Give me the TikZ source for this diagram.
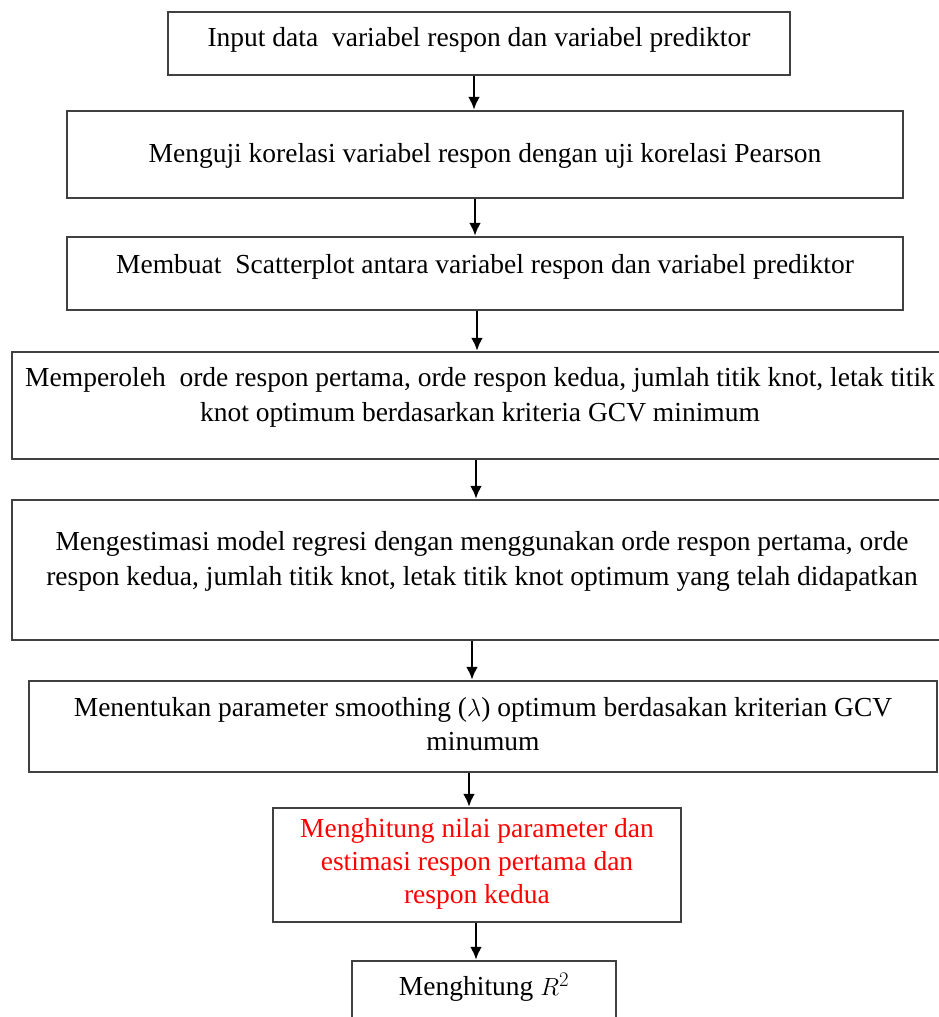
\documentclass[tikz,border=0pt]{standalone}
\usepackage{fontspec}
\setmainfont{Liberation Serif}
\usetikzlibrary{arrows.meta, positioning}

\begin{document}
\begin{tikzpicture}[
    x=1pt, y=-1pt,
    box/.style={draw=black!75, line width=2.4pt, align=center, inner sep=0pt,
        font=\fontsize{27.5}{34.5}\selectfont},
    oneline/.style={text height=19.5pt},
    twoline/.style={text height=54pt},
    flow/.style={-{Latex[length=13pt, width=12pt]}, line width=2.6pt}
]
    \clip (0,0) rectangle (939,1017);

    % Boxes
    \node[box, oneline, minimum width=622, minimum height=63, text depth=12.6pt] (input) at (479,43.5)
        {Input data\ \ variabel respon dan variabel prediktor};
    \node[box, oneline, minimum width=836, minimum height=87, text depth=4pt] (korelasi) at (485,154.5)
        {Menguji korelasi variabel respon dengan uji korelasi Pearson};
    \node[box, oneline, minimum width=836, minimum height=73, text depth=19.6pt] (scatter) at (485,273.5)
        {Membuat\ \ Scatterplot antara variabel respon dan variabel prediktor};
    \node[box, twoline, minimum width=936, minimum height=107, text depth=22.6pt] (knot) at (480,405.5)
        {Memperoleh\ \ orde respon pertama, orde respon kedua, jumlah titik knot, letak titik\\
         knot optimum berdasarkan kriteria GCV minimum};
    \node[box, twoline, minimum width=940, minimum height=140, text depth=23.6pt] (estimasi) at (482,570)
        {Mengestimasi model regresi dengan menggunakan orde respon pertama, orde\\
         respon kedua, jumlah titik knot, letak titik knot optimum yang telah didapatkan};
    \node[box, twoline, minimum width=908, minimum height=91, text depth=6pt] (smoothing) at (483,726.5)
        {Menentukan parameter smoothing ($\lambda$) optimum berdasakan kriterian GCV\\
         minumum};
    \node[box, minimum width=408, minimum height=114, text height=85.5pt, text depth=8.6pt, text=red,
        font=\fontsize{27.5}{33}\selectfont] (hitung) at (477,865)
        {Menghitung nilai parameter dan\\
         estimasi respon pertama dan\\
         respon kedua};
    \node[box, oneline, minimum width=264, minimum height=60, text depth=9.6pt] (rsq) at (484,991)
        {Menghitung $R^2$};

    % Arrows
    \draw[flow] ([xshift=-5pt]input.south) -- ([xshift=-5pt]input.south |- korelasi.north);
    \draw[flow] ([xshift=-10pt]korelasi.south) -- ([xshift=-10pt]korelasi.south |- scatter.north);
    \draw[flow] ([xshift=-8pt]scatter.south) -- ([xshift=-8pt]scatter.south |- knot.north);
    \draw[flow] ([xshift=-4pt]knot.south) -- ([xshift=-4pt]knot.south |- estimasi.north);
    \draw[flow] ([xshift=-10pt]estimasi.south) -- ([xshift=-10pt]estimasi.south |- smoothing.north);
    \draw[flow] ([xshift=-14pt]smoothing.south) -- ([xshift=-14pt]smoothing.south |- hitung.north);
    \draw[flow] ([xshift=-1pt]hitung.south) -- ([xshift=-1pt]hitung.south |- rsq.north);
\end{tikzpicture}
\end{document}
